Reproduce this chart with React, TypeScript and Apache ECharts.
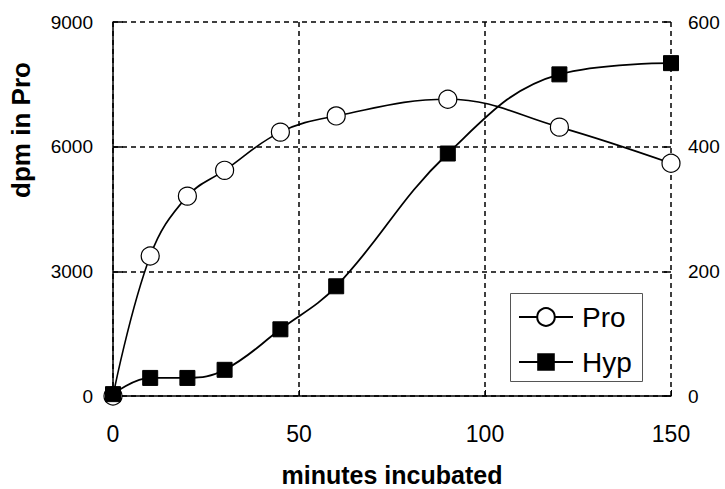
import React, { useEffect, useRef } from "react";
import * as echarts from "echarts";

const minutes = [0, 10, 20, 30, 45, 60, 90, 120, 150];
const proValues = [0, 3370, 4810, 5430, 6350, 6740, 7140, 6470, 5600];
const hypValues = [3, 29, 29, 42, 107, 176, 389, 516, 534];
const xTicks = [0, 50, 100, 150];
const leftTicks = [0, 3000, 6000, 9000];
const rightTicks = [0, 200, 400, 600];

const FONT = "'Liberation Sans', Arial, Helvetica, sans-serif";

export default function App() {
  const ref = useRef<HTMLDivElement>(null);
  useEffect(() => {
    if (!ref.current) return;
    const chart = echarts.init(ref.current, null, { renderer: "svg" });
    const dashed = { color: "#000", width: 1.5, type: [5, 4] as number[] };
    chart.setOption({
      animation: false,
      backgroundColor: "#fff",
      textStyle: { fontFamily: FONT },
      grid: {
        left: 113,
        right: 54,
        top: 22,
        bottom: 93,
        containLabel: false,
        outerBoundsMode: "none",
      },
      legend: {
        left: 518,
        top: 303,
        orient: "vertical",
        data: ["Pro", "Hyp"],
        padding: 0,
        itemWidth: 54,
        itemHeight: 22,
        itemGap: 17,
        z: 10,
        textStyle: {
          fontSize: 28,
          color: "#000",
          fontFamily: FONT,
          lineHeight: 28,
          padding: [0, 0, 0, 4],
        },
      },
      xAxis: {
        type: "value",
        min: xTicks[0],
        max: xTicks[xTicks.length - 1],
        interval: xTicks[1] - xTicks[0],
        name: "minutes incubated",
        nameLocation: "middle",
        nameGap: 69,
        nameTextStyle: {
          fontSize: 25,
          fontWeight: "bold",
          color: "#000",
          fontFamily: FONT,
          lineHeight: 20,
        },
        axisLine: { show: true, lineStyle: { color: "#000", width: 1.5 } },
        axisTick: { show: true, inside: true, length: 6, lineStyle: { color: "#000", width: 1 } },
        axisLabel: { fontSize: 23, color: "#000", margin: 26, fontFamily: FONT },
        splitLine: { show: true, lineStyle: dashed },
      },
      yAxis: [
        {
          type: "value",
          min: leftTicks[0],
          max: leftTicks[leftTicks.length - 1],
          interval: leftTicks[1] - leftTicks[0],
          position: "left",
          axisLine: { show: true, lineStyle: { color: "#000", width: 1.5 } },
          axisTick: { show: true, inside: true, length: 10, lineStyle: { color: "#000", width: 1.5 } },
          axisLabel: {
            fontSize: 19,
            color: "#000",
            margin: 20,
            fontFamily: FONT,
            formatter: (v: number) => String(v),
          },
          splitLine: { show: true, lineStyle: dashed },
        },
        {
          type: "value",
          min: rightTicks[0],
          max: rightTicks[rightTicks.length - 1],
          interval: rightTicks[1] - rightTicks[0],
          position: "right",
          axisLine: { show: false },
          axisTick: { show: true, inside: true, length: 7, lineStyle: { color: "#000", width: 1.5 } },
          axisLabel: {
            fontSize: 19,
            color: "#000",
            margin: 17,
            fontFamily: FONT,
            formatter: (v: number) => String(v),
          },
          splitLine: { show: false },
        },
      ],
      graphic: [
        {
          type: "text",
          x: 21,
          y: 130,
          rotation: Math.PI / 2,
          style: {
            text: "dpm in Pro",
            fontSize: 26,
            fontWeight: "bold",
            fontFamily: FONT,
            fill: "#000",
            textAlign: "center",
            textVerticalAlign: "middle",
          },
        },
        {
          type: "rect",
          z: 5,
          shape: { x: 510.5, y: 293.5, width: 132, height: 88 },
          style: { fill: "#fff", stroke: "#555", lineWidth: 1 },
        },
      ],
      series: [
        {
          name: "Pro",
          type: "line",
          yAxisIndex: 0,
          data: minutes.map((m, i) => [m, proValues[i]]),
          smooth: 0.4,
          clip: false,
          symbol: "circle",
          symbolSize: 18,
          lineStyle: { color: "#000", width: 1.6 },
          itemStyle: { color: "#fff", borderColor: "#000", borderWidth: 1.2 },
        },
        {
          name: "Hyp",
          type: "line",
          yAxisIndex: 1,
          data: minutes.map((m, i) => [m, hypValues[i]]),
          smooth: 0.4,
          clip: false,
          symbol: "rect",
          symbolSize: 15,
          lineStyle: { color: "#000", width: 1.8 },
          itemStyle: { color: "#000", borderColor: "#000" },
        },
      ],
    });
    return () => chart.dispose();
  }, []);
  return (
    <div
      ref={ref}
      style={{ position: "fixed", left: 0, top: 0, width: 725, height: 489, background: "#fff" }}
    />
  );
}
